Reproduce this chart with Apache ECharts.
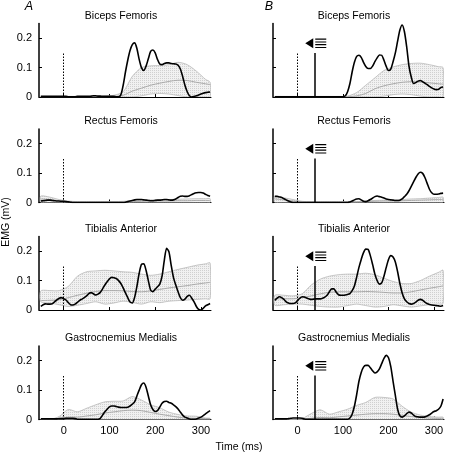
<!DOCTYPE html>
<html><head><meta charset="utf-8">
<script src="https://cdn.jsdelivr.net/npm/echarts@6/dist/echarts.min.js"></script>
<style>html,body{margin:0;padding:0;background:#fff}#c{width:449px;height:452px}</style>
</head><body><div id="c"></div>
<script>
// ---- sample times (ms) ----
const timeFine = [-50,-45,-40,-35,-30,-25,-20,-15,-10,-5,0,5,10,15,20,25,30,35,40,45,50,55,60,65,70,75,80,85,90,95,100,105,110,115,120,125,130,135,140,145,150,155,160,165,170,175,180,185,190,195,200,205,210,215,220,225,230,235,240,245,250,255,260,265,270,275,280,285,290,295,300,305,310,315,320];
const timeBand = [-50,-30,-10,10,30,50,70,90,110,130,150,170,190,210,230,250,270,290,310,320];
const xTicks = [0,100,200,300];
const yTicks = [0,0.1,0.2];
const muscles = ['Biceps Femoris','Rectus Femoris','Tibialis Anterior','Gastrocnemius Medialis'];
const panelLetters = ['A','B'];

// ---- column A : single-subject EMG (black) ----
const bicepsA_emg = [0.002,0.002,0.002,0.002,0.002,0.002,0.002,0.002,0.002,0.002,
 0.002,0.002,0.001,0.001,0.001,0.001,0.002,0.002,0.002,0.002,
 0.002,0.002,0.003,0.004,0.004,0.003,0.003,0.002,0.002,0.002,
 0.002,0.002,0.002,0.001,0.001,0.008,0.04,0.085,0.125,0.158,
 0.178,0.184,0.165,0.128,0.1,0.09,0.105,0.13,0.155,0.16,
 0.15,0.128,0.112,0.11,0.114,0.116,0.116,0.114,0.113,0.112,
 0.108,0.095,0.07,0.04,0.018,0.004,0,0.002,0.004,0.007,
 0.01,0.013,0.015,0.016,0.017];
const rectusA_emg = [0.005,0.006,0.007,0.008,0.008,0.007,0.006,0.005,0.005,0.004,
 0.004,0.003,0.002,0.001,0,0,0,0,0,0,
 0,0,0,0,0,0,0,0,0,0,
 0,0,0,0,0,0,0,0.001,0.003,0.005,
 0.007,0.009,0.01,0.01,0.01,0.009,0.008,0.007,0.006,0.006,
 0.007,0.008,0.008,0.009,0.01,0.01,0.009,0.008,0.009,0.012,
 0.017,0.021,0.022,0.021,0.021,0.023,0.027,0.031,0.033,0.034,
 0.034,0.032,0.028,0.024,0.021];
const tibialisA_emg = [0.012,0.018,0.021,0.02,0.02,0.021,0.028,0.034,0.04,0.042,
 0.038,0.034,0.025,0.018,0.017,0.02,0.026,0.033,0.037,0.042,
 0.048,0.056,0.059,0.055,0.051,0.054,0.06,0.072,0.085,0.096,
 0.106,0.111,0.11,0.107,0.1,0.09,0.075,0.058,0.042,0.027,
 0.024,0.043,0.08,0.125,0.155,0.157,0.135,0.1,0.068,0.062,
 0.071,0.079,0.088,0.115,0.17,0.21,0.198,0.152,0.11,0.085,
 0.062,0.042,0.033,0.037,0.046,0.05,0.04,0.028,0.012,0.002,
 0,0.006,0.014,0.018,0.022];
const gastroA_emg = [0.002,0.002,0.002,0.002,0.002,0.002,0.002,0.002,0.003,0.003,
 0.003,0.004,0.004,0.004,0.004,0.003,0.001,0.001,0.001,0.001,
 0.001,0.001,0.001,0.001,0.001,0.001,0.004,0.015,0.026,0.035,
 0.043,0.046,0.046,0.044,0.042,0.041,0.041,0.041,0.042,0.046,
 0.052,0.06,0.08,0.1,0.118,0.124,0.11,0.08,0.05,0.034,
 0.027,0.03,0.042,0.055,0.061,0.062,0.058,0.055,0.05,0.044,
 0.036,0.025,0.015,0.008,0.005,0.002,0.001,0.001,0.002,0.005,
 0.008,0.013,0.019,0.025,0.03];

// ---- column B : single-subject EMG (black) ----
const bicepsB_emg = [0.001,0.001,0.001,0.001,0.001,0.001,0.001,0.001,0.001,0.001,
 0.001,0.001,0.001,0.001,0.001,0.001,0.001,0.001,0.001,0.001,
 0.001,0.001,0.001,0.001,0.001,0.001,0.001,0.001,0.001,0.001,
 0.001,0.004,0.018,0.045,0.085,0.118,0.138,0.142,0.135,0.118,
 0.104,0.097,0.097,0.105,0.12,0.133,0.143,0.142,0.125,0.104,
 0.09,0.095,0.12,0.15,0.19,0.228,0.245,0.222,0.17,0.105,
 0.068,0.046,0.049,0.054,0.056,0.052,0.047,0.042,0.036,0.031,
 0.027,0.025,0.026,0.032,0.034];
const rectusB_emg = [0.021,0.021,0.019,0.017,0.013,0.009,0.005,0.002,0,0,
 0,0,0,0,0,0,0,0,0,0,
 0,0,0,0,0,0,0,0,0,0,
 0,0,0,0.002,0.005,0.009,0.012,0.013,0.009,0.004,
 0.003,0.006,0.01,0.015,0.02,0.022,0.02,0.018,0.015,0.012,
 0.01,0.009,0.008,0.007,0.007,0.008,0.012,0.02,0.028,0.04,
 0.055,0.07,0.085,0.097,0.103,0.099,0.085,0.065,0.045,0.033,
 0.028,0.028,0.029,0.031,0.032];
const tibialisB_emg = [0.033,0.04,0.045,0.042,0.036,0.028,0.024,0.022,0.022,0.024,
 0.032,0.04,0.045,0.044,0.041,0.038,0.036,0.037,0.038,0.038,
 0.038,0.04,0.044,0.05,0.062,0.072,0.072,0.06,0.052,0.05,
 0.05,0.051,0.053,0.056,0.066,0.082,0.112,0.145,0.172,0.195,
 0.207,0.206,0.185,0.155,0.122,0.1,0.088,0.092,0.115,0.145,
 0.172,0.185,0.18,0.163,0.13,0.09,0.058,0.038,0.028,0.022,
 0.02,0.022,0.027,0.033,0.036,0.033,0.027,0.022,0.019,0.017,
 0.016,0.015,0.014,0.013,0.015];
const gastroB_emg = [0.002,0.002,0.002,0.002,0.002,0.002,0.003,0.004,0.005,0.005,
 0.005,0.005,0.004,0.002,0.001,0.001,0.001,0.001,0.001,0.001,
 0.001,0.001,0.001,0.001,0.001,0.001,0.001,0.001,0.001,0.001,
 0.001,0.001,0.001,0.005,0.018,0.045,0.085,0.13,0.16,0.178,
 0.184,0.184,0.176,0.166,0.158,0.162,0.172,0.19,0.208,0.218,
 0.21,0.18,0.13,0.082,0.035,0.012,0.008,0.012,0.02,0.025,
 0.022,0.015,0.01,0.009,0.008,0.008,0.009,0.012,0.016,0.022,
 0.027,0.03,0.035,0.045,0.07];

// ---- control group bands (upper / mean / lower) ----
const bicepsA_up   = [0.002,0.002,0.002,0.002,0.002,0.002,0.002,0.003,0.006,0.018,0.07,0.1,0.106,0.107,0.11,0.118,0.11,0.088,0.06,0.05];
const bicepsA_mean = [0.001,0.001,0.001,0.001,0.001,0.001,0.001,0.001,0.002,0.006,0.02,0.03,0.04,0.047,0.053,0.057,0.056,0.05,0.045,0.042];
const bicepsA_lo   = [0,0,0,0,0,0,0,0,0,0,0,0.004,0.01,0.012,0.01,0.005,0,0,0,0];
const rectusA_up   = [0.022,0.018,0.01,0.005,0.003,0.003,0.003,0.003,0.003,0.004,0.006,0.008,0.009,0.01,0.01,0.011,0.012,0.013,0.013,0.013];
const rectusA_mean = [0.012,0.01,0.006,0.003,0.002,0.002,0.002,0.002,0.002,0.002,0.003,0.004,0.005,0.005,0.005,0.006,0.006,0.007,0.007,0.007];
const rectusA_lo   = [0,0,0,0,0,0,0,0,0,0,0,0,0,0,0,0,0,0,0,0];
const tibialisA_up   = [0.065,0.066,0.066,0.08,0.115,0.13,0.133,0.135,0.133,0.13,0.128,0.122,0.118,0.122,0.13,0.138,0.145,0.152,0.157,0.16];
const tibialisA_mean = [0.032,0.033,0.035,0.042,0.05,0.057,0.063,0.066,0.066,0.065,0.063,0.062,0.065,0.07,0.075,0.079,0.083,0.088,0.092,0.094];
const tibialisA_lo   = [0.028,0.024,0.018,0.012,0.016,0.022,0.028,0.02,0.024,0.03,0.026,0.02,0.028,0.025,0.03,0.032,0.034,0.036,0.038,0.038];
const gastroA_up   = [0,0,0.01,0.034,0.026,0.038,0.05,0.06,0.062,0.063,0.078,0.066,0.05,0.04,0.025,0.017,0.012,0.011,0.005,0.004];
const gastroA_mean = [0,0,0.003,0.008,0.008,0.012,0.016,0.022,0.026,0.03,0.032,0.03,0.024,0.018,0.013,0.008,0.005,0.004,0.003,0.003];
const gastroA_lo   = [0,0,0,0,0,0,0,0,0,0,0,0,0,0,0,0,0,0,0,0];
const bicepsB_up   = [0.002,0.002,0.002,0.002,0.002,0.002,0.002,0.002,0.003,0.015,0.04,0.065,0.09,0.102,0.11,0.114,0.115,0.11,0.103,0.1];
const bicepsB_mean = [0.001,0.001,0.001,0.001,0.001,0.001,0.001,0.001,0.001,0.004,0.012,0.028,0.038,0.045,0.05,0.052,0.051,0.048,0.045,0.044];
const bicepsB_lo   = [0,0,0,0,0,0,0,0,0,0,0,0,0.003,0.008,0.01,0.008,0.003,0,0,0];
const rectusB_up   = [0.021,0.016,0.01,0.004,0.003,0.003,0.003,0.003,0.003,0.003,0.005,0.007,0.008,0.009,0.01,0.012,0.013,0.015,0.017,0.018];
const rectusB_mean = [0.012,0.009,0.005,0.002,0.002,0.002,0.002,0.002,0.002,0.002,0.003,0.004,0.005,0.005,0.006,0.007,0.008,0.009,0.01,0.01];
const rectusB_lo   = [0,0,0,0,0,0,0,0,0,0,0,0,0,0,0,0,0,0,0,0];
const tibialisB_up   = [0.05,0.05,0.048,0.055,0.085,0.105,0.115,0.12,0.122,0.122,0.125,0.12,0.108,0.097,0.09,0.09,0.1,0.115,0.128,0.135];
const tibialisB_mean = [0.038,0.038,0.038,0.042,0.048,0.055,0.06,0.062,0.062,0.062,0.063,0.062,0.06,0.058,0.058,0.062,0.068,0.074,0.079,0.082];
const tibialisB_lo   = [0.016,0.018,0.02,0.02,0.016,0.012,0.01,0.01,0.015,0.02,0.015,0.01,0.012,0.018,0.014,0.01,0.014,0.018,0.02,0.022];
const gastroB_up   = [0,0,0,0.003,0.02,0.033,0.018,0.026,0.035,0.048,0.058,0.075,0.075,0.07,0.045,0.025,0.015,0.01,0.008,0.008];
const gastroB_mean = [0,0,0,0.001,0.004,0.007,0.006,0.009,0.012,0.015,0.018,0.02,0.02,0.018,0.014,0.01,0.007,0.005,0.004,0.004];
const gastroB_lo   = [0,0,0,0,0,0,0,0,0,0,0,0,0,0,0,0,0,0,0,0];

// ---- event markers (ms / mV) ----
const onsetTime = 0;        // dotted line
const stimTime = 38;        // solid line (column B)
const markerTop = 0.15;
const iconPos = [40, 0.183];

const panels = [
 {col:0,row:0,emg:bicepsA_emg,up:bicepsA_up,mean:bicepsA_mean,lo:bicepsA_lo},
 {col:0,row:1,emg:rectusA_emg,up:rectusA_up,mean:rectusA_mean,lo:rectusA_lo},
 {col:0,row:2,emg:tibialisA_emg,up:tibialisA_up,mean:tibialisA_mean,lo:tibialisA_lo},
 {col:0,row:3,emg:gastroA_emg,up:gastroA_up,mean:gastroA_mean,lo:gastroA_lo},
 {col:1,row:0,emg:bicepsB_emg,up:bicepsB_up,mean:bicepsB_mean,lo:bicepsB_lo},
 {col:1,row:1,emg:rectusB_emg,up:rectusB_up,mean:rectusB_mean,lo:rectusB_lo},
 {col:1,row:2,emg:tibialisB_emg,up:tibialisB_up,mean:tibialisB_mean,lo:tibialisB_lo},
 {col:1,row:3,emg:gastroB_emg,up:gastroB_up,mean:gastroB_mean,lo:gastroB_lo}
];

// ---- layout ----
const X_MIN = -54, X_MAX = 322, Y_MAX = 0.25;
const colLeft = [39, 273], colWidth = [172, 171];
const rowTop = [23.5, 129, 236.5, 346], rowH = 73.5;
const FONT = '"Liberation Sans", Arial, sans-serif';
const titleX = [121, 354];

// stipple fill pattern for the control bands
const pc = document.createElement('canvas'); pc.width = 2; pc.height = 2;
const pg = pc.getContext('2d');
pg.fillStyle = '#f1f1f1'; pg.fillRect(0,0,2,2);
pg.fillStyle = '#d0d0d0'; pg.fillRect(0,0,1,1);
const bandFill = {image: pc, repeat: 'repeat'};

const iconPath = 'path://M0,5L8,0L8,10Z M10,0.4L21,0.4L21,1.6L10,1.6Z M10,3.2L21,3.2L21,4.4L10,4.4Z M10,5.9L21,5.9L21,7.1L10,7.1Z M10,8.7L21,8.7L21,9.9L10,9.9Z';

const dottedStyle = {type: [1.5, 1.5], width: 1, color: '#000'};
const solidStyle = {type: 'solid', width: 1.5, color: '#000'};

const grid = [], xAxis = [], yAxis = [], series = [], graphic = [];
panels.forEach((p, i) => {
  grid.push({left: colLeft[p.col], top: rowTop[p.row], width: colWidth[p.col], height: rowH});
  xAxis.push({gridIndex: i, type: 'value', min: X_MIN, max: X_MAX,
    axisLine: {show: true, onZero: false, lineStyle: {color: '#000', width: 1}},
    axisTick: {show: true, inside: true, length: 3, customValues: xTicks, lineStyle: {color: '#000'}},
    axisLabel: {show: p.row === 3, customValues: xTicks, margin: 6, fontSize: 11, color: '#000', fontFamily: FONT},
    splitLine: {show: false}});
  yAxis.push({gridIndex: i, type: 'value', min: 0, max: Y_MAX,
    axisLine: {show: true, onZero: false, lineStyle: {color: '#000', width: 1.5}},
    axisTick: {show: true, inside: true, length: 3, customValues: yTicks, lineStyle: {color: '#000'}},
    axisLabel: {show: p.col === 0, customValues: yTicks, margin: 7, fontSize: 11, color: '#000', fontFamily: FONT,
      formatter: v => v === 0 ? '0' : String(+v.toFixed(1))},
    splitLine: {show: false}});
  // band polygon
  series.push({type: 'custom', xAxisIndex: i, yAxisIndex: i, clip: true, silent: true, z: 1,
    data: [[timeBand[0], p.up[0]]],
    renderItem: (params, api) => {
      const pts = [];
      for (let k = 0; k < timeBand.length; k++) pts.push(api.coord([timeBand[k], p.up[k]]));
      for (let k = timeBand.length - 1; k >= 0; k--) pts.push(api.coord([timeBand[k], p.lo[k]]));
      return {type: 'polygon', shape: {points: pts, smooth: 0.25},
        style: {fill: bandFill, stroke: '#b8b8b8', lineWidth: 0.8}};
    }});
  // mean line
  series.push({type: 'line', xAxisIndex: i, yAxisIndex: i, symbol: 'none', smooth: 0.3, silent: true, z: 2,
    lineStyle: {color: '#a3a3a3', width: 0.9},
    data: timeBand.map((t, k) => [t, p.mean[k]])});
  // subject EMG with event markers
  const marks = [[{coord: [onsetTime, 0], lineStyle: dottedStyle}, {coord: [onsetTime, markerTop], lineStyle: dottedStyle}]];
  if (p.col === 1) marks.push([{coord: [stimTime, 0], lineStyle: solidStyle}, {coord: [stimTime, markerTop], lineStyle: solidStyle}]);
  const s = {type: 'line', xAxisIndex: i, yAxisIndex: i, symbol: 'none', smooth: 0.25, silent: true, z: 3,
    lineStyle: {color: '#000', width: 1.6},
    data: timeFine.map((t, k) => [t, p.emg[k]]),
    markLine: {silent: true, symbol: ['none', 'none'], label: {show: false}, animation: false, data: marks}};
  if (p.col === 1) s.markPoint = {silent: true, symbol: iconPath, symbolSize: [21, 10], symbolKeepAspect: false,
      itemStyle: {color: '#000'}, label: {show: false}, animation: false, data: [{coord: iconPos}]};
  series.push(s);
  // panel title
  graphic.push({type: 'text', x: titleX[p.col], y: rowTop[p.row] + rowH - 81, silent: true,
    style: {text: muscles[p.row], font: '10.5px ' + FONT, fill: '#000', textAlign: 'center', textVerticalAlign: 'middle', align: 'center', verticalAlign: 'middle'}});
});
graphic.push({type: 'text', x: 29, y: 7, style: {text: panelLetters[0], font: 'italic 12.5px ' + FONT, fill: '#000', textAlign: 'center', textVerticalAlign: 'middle', align: 'center', verticalAlign: 'middle'}});
graphic.push({type: 'text', x: 269, y: 7, style: {text: panelLetters[1], font: 'italic 12.5px ' + FONT, fill: '#000', textAlign: 'center', textVerticalAlign: 'middle', align: 'center', verticalAlign: 'middle'}});
graphic.push({type: 'text', x: 6, y: 222, rotation: Math.PI / 2, style: {text: 'EMG (mV)', font: '10.5px ' + FONT, fill: '#000', textAlign: 'center', textVerticalAlign: 'middle', align: 'center', verticalAlign: 'middle'}});
graphic.push({type: 'text', x: 239, y: 447, style: {text: 'Time (ms)', font: '10.5px ' + FONT, fill: '#000', textAlign: 'center', textVerticalAlign: 'middle', align: 'center', verticalAlign: 'middle'}});

const chart = echarts.init(document.getElementById('c'), null, {renderer: 'canvas'});
chart.setOption({animation: false, backgroundColor: '#fff', grid, xAxis, yAxis, series, graphic});
</script></body></html>
